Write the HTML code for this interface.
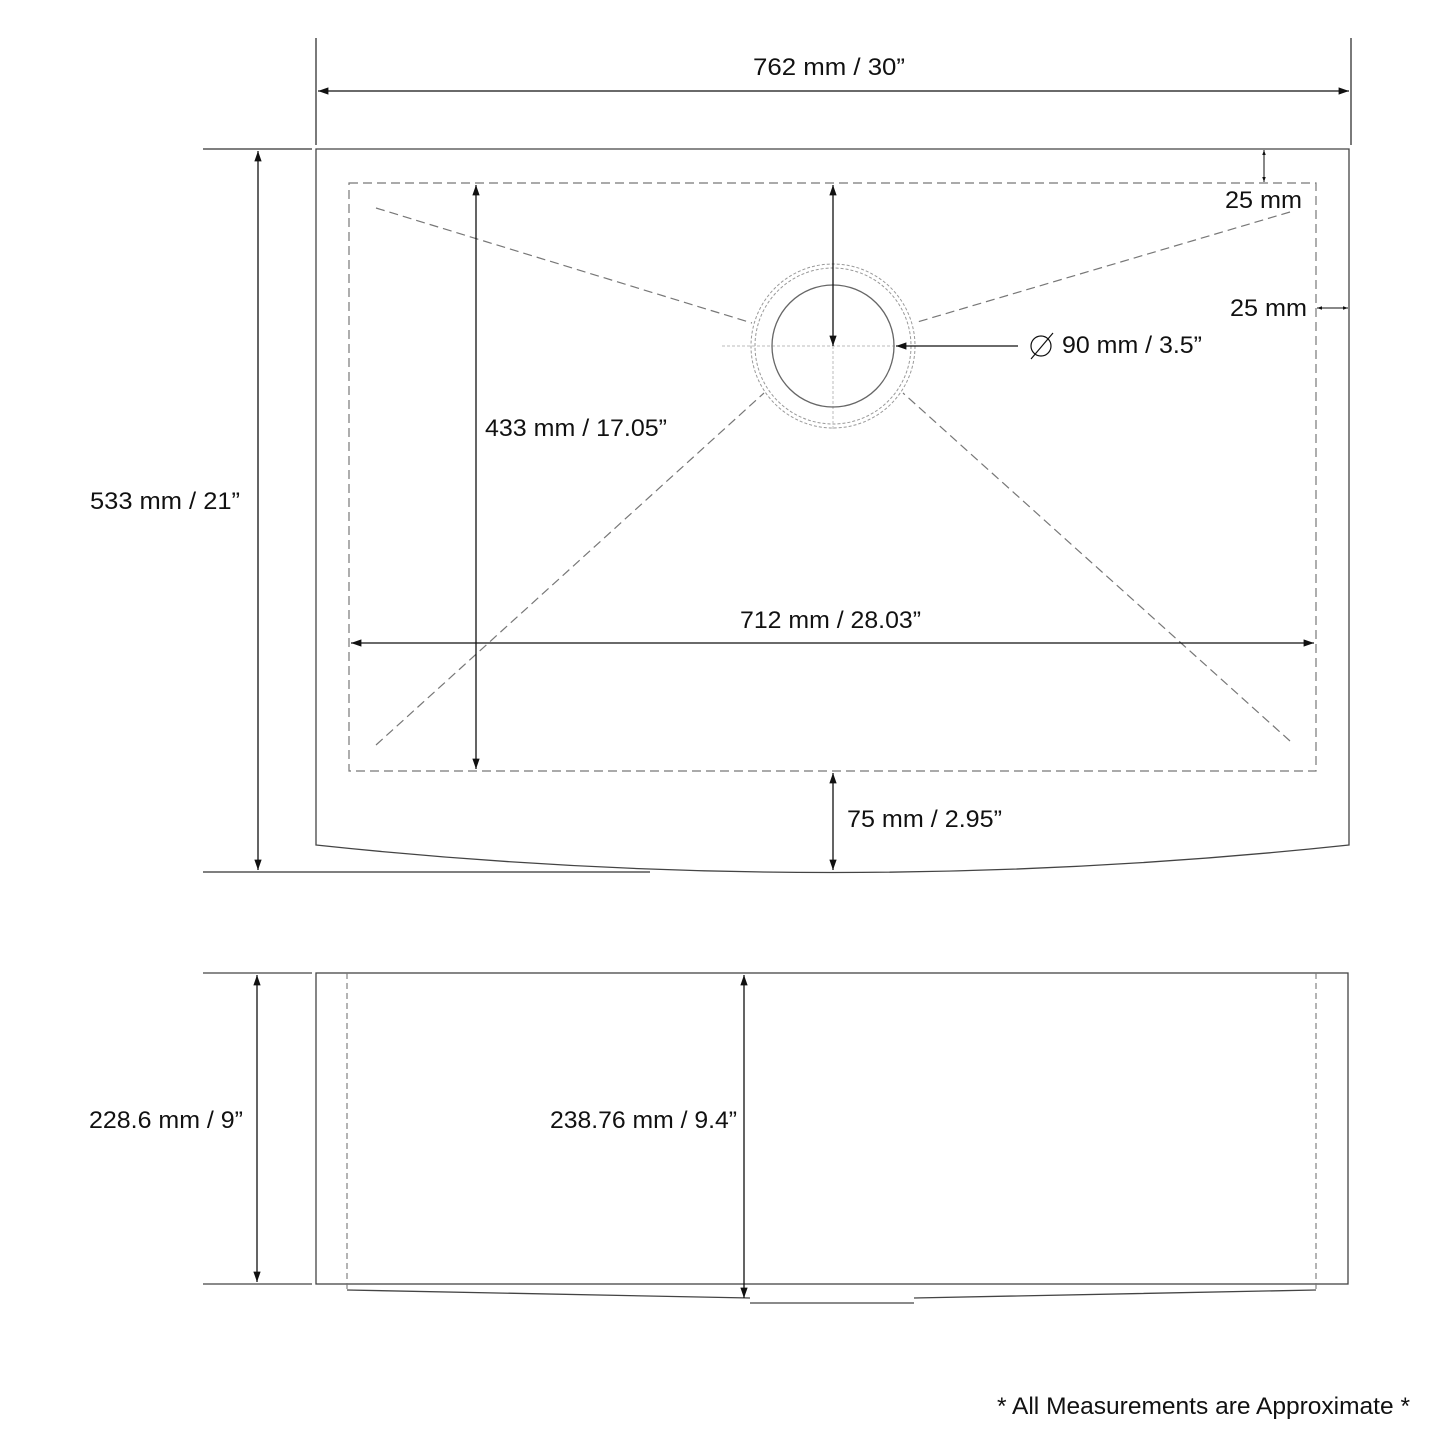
<!DOCTYPE html>
<html><head><meta charset="utf-8"><style>
html,body{margin:0;padding:0;background:#fff;}
svg{display:block}
text{font-family:"Liberation Sans",sans-serif;font-size:24px;fill:#111;}
</style></head><body>
<svg width="1445" height="1445" viewBox="0 0 1445 1445" xmlns="http://www.w3.org/2000/svg">
<defs>
<marker id="a" viewBox="0 0 10 10" refX="10" refY="5" markerWidth="8" markerHeight="8" orient="auto-start-reverse"><path d="M0,1.5 L10,5 L0,8.5z" fill="#111"/></marker>
<marker id="s" viewBox="0 0 10 10" refX="10" refY="5" markerWidth="5" markerHeight="5" orient="auto-start-reverse"><path d="M0,1.5 L10,5 L0,8.5z" fill="#111"/></marker>
</defs>
<g stroke="#333" fill="none" stroke-width="1.3">
<path d="M316,149 H1349 V845 Q833,900 316,845 Z" stroke="#444"/>
<line x1="316" y1="38" x2="316" y2="145"/>
<line x1="1351" y1="38" x2="1351" y2="145"/>
<line x1="203" y1="149" x2="312" y2="149"/>
<line x1="203" y1="872" x2="650" y2="872"/>
</g>
<g stroke="#777" fill="none" stroke-width="1.2" stroke-dasharray="9,5">
<rect x="349" y="183" width="967" height="588"/>
<line x1="376" y1="208" x2="752" y2="323"/>
<line x1="1290" y1="212" x2="914" y2="323"/>
<line x1="376" y1="745" x2="764" y2="393"/>
<line x1="1290" y1="741" x2="903" y2="393"/>
</g>
<g stroke="#999" fill="none" stroke-width="1" stroke-dasharray="3,2">
<circle cx="833" cy="346" r="78"/>
<circle cx="833" cy="346" r="82"/>
<line x1="722" y1="346" x2="944" y2="346" stroke="#bbb"/>
<line x1="833" y1="346" x2="833" y2="430" stroke="#bbb"/>
</g>
<circle cx="833" cy="346" r="61" stroke="#666" fill="none" stroke-width="1.3"/>
<g stroke="#111" stroke-width="1.3" fill="none">
<line x1="318" y1="91" x2="1349" y2="91" marker-start="url(#a)" marker-end="url(#a)"/>
<line x1="258" y1="151" x2="258" y2="870" marker-start="url(#a)" marker-end="url(#a)"/>
<line x1="476" y1="185" x2="476" y2="769" marker-start="url(#a)" marker-end="url(#a)"/>
<line x1="351" y1="643" x2="1314" y2="643" marker-start="url(#a)" marker-end="url(#a)"/>
<line x1="833" y1="185" x2="833" y2="346" marker-start="url(#a)" marker-end="url(#a)"/>
<line x1="833" y1="773" x2="833" y2="870" marker-start="url(#a)" marker-end="url(#a)"/>
<line x1="1018" y1="346" x2="896" y2="346" marker-end="url(#a)"/>
<line x1="1264" y1="150" x2="1264" y2="182" marker-start="url(#s)" marker-end="url(#s)" stroke-width="1"/>
<line x1="1317" y1="308" x2="1348" y2="308" marker-start="url(#s)" marker-end="url(#s)" stroke-width="1"/>
</g>
<text x="753" y="75" textLength="152" lengthAdjust="spacingAndGlyphs">762 mm / 30”</text>
<text x="1225" y="208" textLength="77" lengthAdjust="spacingAndGlyphs">25 mm</text>
<text x="1230" y="316" textLength="77" lengthAdjust="spacingAndGlyphs">25 mm</text>
<g stroke="#111" stroke-width="1.2" fill="none"><circle cx="1041" cy="346" r="10"/><line x1="1031" y1="359" x2="1053" y2="333"/></g>
<text x="1062" y="353" textLength="140" lengthAdjust="spacingAndGlyphs">90 mm / 3.5”</text>
<text x="485" y="436" textLength="182" lengthAdjust="spacingAndGlyphs">433 mm / 17.05”</text>
<text x="90" y="509" textLength="150" lengthAdjust="spacingAndGlyphs">533 mm / 21”</text>
<text x="740" y="628" textLength="181" lengthAdjust="spacingAndGlyphs">712 mm / 28.03”</text>
<text x="847" y="827" textLength="155" lengthAdjust="spacingAndGlyphs">75 mm / 2.95”</text>
<g stroke="#444" fill="none" stroke-width="1.3">
<rect x="316" y="973" width="1032" height="311"/>
<line x1="203" y1="973" x2="312" y2="973"/>
<line x1="203" y1="1284" x2="312" y2="1284"/>
<path d="M347,1290 L750,1298 M750,1303 H914 M914,1298 L1316,1290"/>
</g>
<g stroke="#777" stroke-width="1.1" stroke-dasharray="6,4">
<line x1="347" y1="973" x2="347" y2="1290"/>
<line x1="1316" y1="973" x2="1316" y2="1290"/>
</g>
<g stroke="#111" stroke-width="1.3">
<line x1="257" y1="975" x2="257" y2="1282" marker-start="url(#a)" marker-end="url(#a)"/>
<line x1="744" y1="975" x2="744" y2="1298" marker-start="url(#a)" marker-end="url(#a)"/>
</g>
<text x="89" y="1128" textLength="154" lengthAdjust="spacingAndGlyphs">228.6 mm / 9”</text>
<text x="550" y="1128" textLength="187" lengthAdjust="spacingAndGlyphs">238.76 mm / 9.4”</text>
<text x="997" y="1414" textLength="413" lengthAdjust="spacingAndGlyphs">* All Measurements are Approximate *</text>
</svg>
</body></html>
